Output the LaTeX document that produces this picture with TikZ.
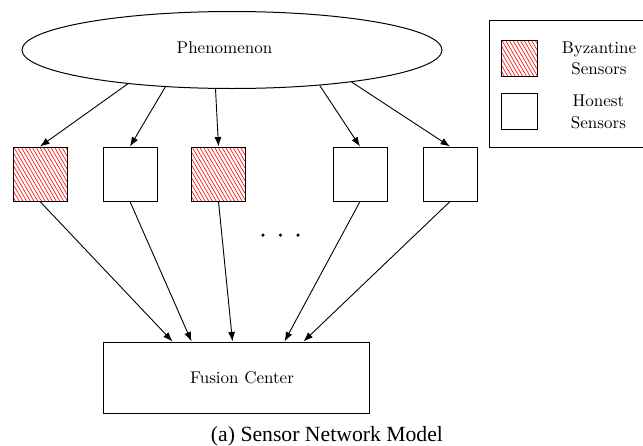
\documentclass[tikz,border=0pt]{standalone}
\usepackage{fontspec}
\setmainfont{lmroman10-regular.otf}
\newfontfamily\capfont{Liberation Serif}
\usetikzlibrary{shapes.geometric,arrows.meta,calc}
\begin{document}
\begin{tikzpicture}[x=1pt,y=-1pt,
  every node/.style={font=\fontsize{17}{21.7}\selectfont},
  box/.style={draw, line width=1pt, inner sep=0pt},
  sensor/.style={box, minimum width=54pt, minimum height=54pt},
  hatch/.style={path picture={
      \foreach \i in {-40,-36.3,...,60}
        \draw[red, line width=0.6pt]
          ($(path picture bounding box.north west)+(\i,0)$) -- ++(36,62);}},
  byz/.style={sensor, hatch},
  legsq/.style={box, minimum width=36pt, minimum height=36pt},
  conn/.style={line width=0.9pt, -{Latex[length=9.5pt,width=7pt]}},
  txt/.style={inner sep=0pt, align=center},
  dot/.style={circle, fill=black, inner sep=0pt, minimum size=3.5pt},
]
\useasboundingbox (0,0) rectangle (643,445);

% phenomenon
\node[box, ellipse, minimum width=420pt, minimum height=77pt] (ph) at (232,50) {};
\node[txt, anchor=base] (pht) at (224.5,53) {Phenomenon};

% sensors
\node[byz]    (s1) at (40,174)  {};
\node[sensor] (s2) at (130,174) {};
\node[byz]    (s3) at (218.5,174) {};
\node[sensor] (s4) at (360,174) {};
\node[sensor] (s5) at (450,174) {};

% dots
\node[dot] (d1) at (263,235) {};
\node[dot] (d2) at (280.5,235) {};
\node[dot] (d3) at (298,235) {};

% fusion center
\node[box, minimum width=266pt, minimum height=71pt] (fc) at (236,377.5) {};
\node[txt, anchor=base] (fct) at (242,383.3) {Fusion Center};
\coordinate (f1) at ($(fc.north west)+(70,0)$);
\coordinate (f2) at ($(fc.north west)+(89,0)$);
\coordinate (f3) at ($(fc.north west)+(130,0)$);
\coordinate (f4) at ($(fc.north west)+(182,0)$);
\coordinate (f5) at ($(fc.north west)+(201,0)$);

% arrows phenomenon -> sensors
\draw[conn] (ph.198)   -- (s1.north);
\draw[conn] (ph.209.8) -- (s2.north);
\draw[conn] (ph.247.4) -- (s3.north);
\draw[conn] (ph.338.3) -- (s4.north);
\draw[conn] (ph.345.9) -- (s5.north);

% arrows sensors -> fusion
\draw[conn] (s1.south) -- (f1);
\draw[conn] (s2.south) -- (f2);
\draw[conn] (s3.south) -- (f3);
\draw[conn] (s4.south) -- (f4);
\draw[conn] (s5.south) -- (f5);

% legend
\node[box, anchor=north west, minimum width=161pt, minimum height=127pt] (leg) at (489,20) {};
\node[legsq, hatch] (lb) at (519,58) {};
\node[legsq] (lh) at (519,111) {};
\node[txt] (lbt) at (599,58.3) {Byzantine\\Sensors};
\node[txt] (lht) at (598.5,111.7) {Honest\\Sensors};

% caption
\node[txt, anchor=base, font=\capfont\fontsize{21.7}{25}\selectfont] (cap) at (327,441) {(a) Sensor Network Model};
\end{tikzpicture}
\end{document}
